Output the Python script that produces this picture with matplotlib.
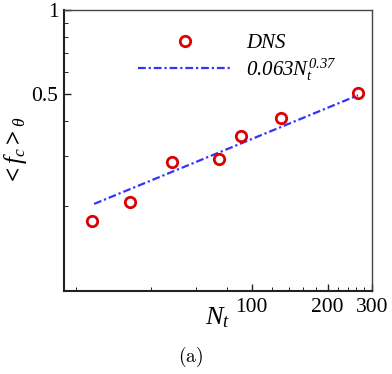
import numpy as np
import matplotlib
matplotlib.use("Agg")
import matplotlib.pyplot as plt
from matplotlib.ticker import FixedLocator, NullFormatter, FixedFormatter

plt.rcParams['font.family'] = ['Liberation Serif', 'DejaVu Serif']
plt.rcParams['mathtext.fontset'] = 'custom'
# upright math parts (digits) are italic in the reference too
plt.rcParams['mathtext.rm'] = 'Liberation Serif:italic'
plt.rcParams['mathtext.it'] = 'Liberation Serif:italic'
plt.rcParams['mathtext.bf'] = 'Liberation Serif:bold'

# DNS data
nt_dns = [23.2, 33.0, 48.2, 74.2, 90.7, 130.6, 264.3]
fc_dns = [0.176, 0.206, 0.287, 0.294, 0.356, 0.412, 0.507]

# fitted power law 0.063 N_t^0.37 (straight in log-log), end points
nt_fit = [23.7, 264.0]
fc_fit = [0.203, 0.496]

x_major = [100, 200, 300]
x_major_labels = ['100', '200', '300']
x_minor = [20, 40, 60, 80, 120, 140, 160, 180, 220, 240, 260, 280]
y_major = [0.5, 1.0]
y_major_labels = ['0.5', '1']
y_minor = [0.2, 0.3, 0.4, 0.6, 0.7, 0.8, 0.9]

fig = plt.figure(figsize=(3.92, 3.74), dpi=100)
ax = fig.add_axes([64 / 392, 83 / 374, 308 / 392, 281 / 374])

ax.plot(nt_dns, fc_dns, 'o', mfc='none', mec='#dd0000', ms=7.5, mew=2.0,
        label='DNS', zorder=3)
line, = ax.plot(nt_fit, fc_fit, '-.', color='#3333ff', lw=1.6,
                label=r'$0.063N_t^{0.37}$')
line.set_dashes((3.5, 1.3, 1.0, 1.3))

ax.set_xscale('log')
ax.set_yscale('log')
ax.set_xlim(18.0, 300)
ax.set_ylim(0.0992, 1.0)

ax.xaxis.set_major_locator(FixedLocator(x_major))
ax.xaxis.set_major_formatter(FixedFormatter(x_major_labels))
ax.xaxis.set_minor_locator(FixedLocator(x_minor))
ax.xaxis.set_minor_formatter(NullFormatter())
ax.yaxis.set_major_locator(FixedLocator(y_major))
ax.yaxis.set_major_formatter(FixedFormatter(y_major_labels))
ax.yaxis.set_minor_locator(FixedLocator(y_minor))
ax.yaxis.set_minor_formatter(NullFormatter())

ax.tick_params(which='both', direction='in', top=False, right=False,
               labelsize=15.5, color='#222222')
ax.tick_params(which='major', length=5, width=1.0, pad=4)
ax.tick_params(which='minor', length=2.8, width=0.7)
ax.tick_params(axis='x', which='major', pad=5)

for side in ['left', 'bottom']:
    ax.spines[side].set_linewidth(1.5)
    ax.spines[side].set_color('#222222')
for side in ['top', 'right']:
    ax.spines[side].set_linewidth(1.0)
    ax.spines[side].set_color('#444444')

ax.set_xlabel(r'$N_t$', fontsize=19, labelpad=-8)
ax.set_ylabel(r'$\mathbf{<}f_c\mathbf{>}_\theta$', fontsize=18)
ax.yaxis.set_label_coords(-0.115, 0.5)

leg = ax.legend(loc='upper left', bbox_to_anchor=(0.213, 0.945), frameon=False,
                prop={'family': 'Liberation Serif', 'style': 'italic', 'size': 15},
                handlelength=4.5, handletextpad=0.7, labelspacing=0.15,
                borderaxespad=0.0)

fig.text(191 / 392, 1 - 357 / 374, r'$\mathrm{(a)}$', ha='center', va='center',
         fontsize=14, math_fontfamily='cm')

fig.savefig('out.png', dpi=100)
